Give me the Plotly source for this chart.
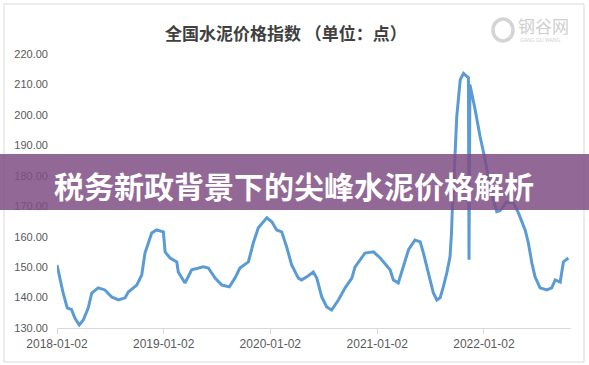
import plotly.graph_objects as go

# ---- data ----
dates = [
    "2018-01-02", "2018-01-23", "2018-02-06", "2018-02-21", "2018-03-04", "2018-03-19",
    "2018-04-02", "2018-04-19", "2018-05-01", "2018-05-23", "2018-06-15", "2018-07-08",
    "2018-07-31", "2018-08-23", "2018-09-03", "2018-10-02", "2018-10-19", "2018-10-30",
    "2018-11-11", "2018-11-22", "2018-12-09", "2019-01-01", "2019-01-07", "2019-01-24",
    "2019-02-16", "2019-02-21", "2019-03-16", "2019-04-08", "2019-05-18", "2019-06-04",
    "2019-06-27", "2019-07-20", "2019-08-15", "2019-09-03", "2019-09-20", "2019-10-19",
    "2019-11-05", "2019-11-22", "2019-12-21", "2020-01-07", "2020-01-24", "2020-02-10",
    "2020-02-27", "2020-03-15", "2020-04-07", "2020-04-18", "2020-05-06", "2020-05-28",
    "2020-06-09", "2020-06-26", "2020-07-13", "2020-07-30", "2020-08-22", "2020-09-14",
    "2020-10-07", "2020-10-18", "2020-11-21", "2020-12-20", "2021-01-12", "2021-02-04",
    "2021-02-15", "2021-02-26", "2021-03-15", "2021-04-01", "2021-04-19", "2021-05-11",
    "2021-05-29", "2021-06-09", "2021-06-26", "2021-07-13", "2021-07-25", "2021-08-05",
    "2021-08-16", "2021-08-28", "2021-09-08", "2021-09-13", "2021-09-17", "2021-09-21",
    "2021-10-01", "2021-10-13", "2021-10-24", "2021-11-10", "2021-11-12", "2021-11-15",
    "2021-12-03", "2021-12-20", "2022-01-06", "2022-01-23", "2022-02-15", "2022-02-26",
    "2022-03-21", "2022-04-13", "2022-04-30", "2022-05-23", "2022-06-03", "2022-06-15",
    "2022-06-26", "2022-07-13", "2022-08-05", "2022-08-22", "2022-09-03", "2022-09-20",
    "2022-10-01", "2022-10-18",
]
values = [
    150.7, 141.5, 136.6, 136.0, 133.3, 131.0,
    132.6, 136.6, 141.5, 143.2, 142.5, 140.2,
    139.2, 139.9, 141.8, 144.1, 147.4, 154.6,
    158.0, 161.2, 162.2, 161.6, 155.0, 153.0,
    151.7, 148.4, 144.8, 149.1, 150.1, 149.7,
    146.4, 144.1, 143.5, 146.4, 149.7, 151.7,
    158.0, 162.9, 166.2, 164.9, 162.2, 161.6,
    156.6, 150.7, 146.4, 145.8, 146.8, 148.4,
    146.4, 140.2, 136.9, 135.9, 139.2, 143.2,
    146.4, 150.1, 154.6, 155.0, 153.0, 150.1,
    149.1, 145.8, 144.8, 150.1, 155.7, 158.9,
    158.3, 154.6, 148.1, 141.5, 139.2, 139.9,
    143.5, 148.1, 153.4, 161.2, 172.0, 178.0,
    199.4, 211.6, 213.6, 212.2, 152.4, 210.0,
    201.7, 192.8, 185.3, 176.0, 168.2, 168.5,
    171.4, 171.1, 167.8, 162.2, 158.0, 151.4,
    146.8, 143.2, 142.5, 143.2, 145.8, 145.1,
    151.7, 153.0,
]
x_tick_vals = ["2018-01-02", "2019-01-02", "2020-01-02", "2021-01-02", "2022-01-02"]
x_tick_text = ["2018-01-02", "2019-01-02", "2020-01-02", "2021-01-02", "2022-01-02"]
y_ticks = [130, 140, 150, 160, 170, 180, 190, 200, 210, 220]

title_text = "全国水泥价格指数 （单位：点）"
banner_text = "税务新政背景下的尖峰水泥价格解析"

# ---- layout geometry (pixels) ----
W, H = 589, 365
L, R, T, B = 57, 571, 54, 328


def px(xp):
    return (xp - L) / (R - L)


def py(yp):
    return (B - yp) / (B - T)


fig = go.Figure()
fig.add_trace(go.Scatter(
    x=dates, y=values, mode="lines",
    line=dict(color="#5B9BD5", width=3),
    hoverinfo="skip", showlegend=False,
))

fig.update_layout(
    width=W, height=H,
    margin=dict(l=L, r=W - R, t=T, b=H - B, pad=0),
    paper_bgcolor="white", plot_bgcolor="white",
    font=dict(family="Liberation Sans, Arial, sans-serif", color="#595959"),
    xaxis=dict(
        type="date", range=["2018-01-02", "2022-10-27"],
        tickvals=x_tick_vals, ticktext=x_tick_text,
        showgrid=False, zeroline=False,
        showline=True, linecolor="#d9d9d9", linewidth=1,
        ticks="outside", ticklen=5, tickcolor="#d9d9d9",
        tickfont=dict(size=12, color="#595959"),
    ),
    yaxis=dict(
        range=[130, 220], tickvals=y_ticks, tickformat=".2f",
        showgrid=False, zeroline=False, showline=False,
        ticks="", ticklabelstandoff=8,
        tickfont=dict(size=11, color="#595959"),
    ),
    shapes=[
        # chart frame
        dict(type="rect", xref="paper", yref="paper",
             x0=px(4), x1=px(584), y0=py(362), y1=py(4),
             line=dict(color="#d9d9d9", width=1), layer="below"),
        # watermark circle
        dict(type="circle", xref="paper", yref="paper",
             x0=px(493), x1=px(513), y0=py(41), y1=py(19),
             line=dict(color="#d4d4d4", width=3.5), layer="above"),
        # banner
        dict(type="rect", xref="paper", yref="paper",
             x0=px(0), x1=px(W), y0=py(210), y1=py(154),
             fillcolor="rgba(127,77,132,0.85)", line=dict(width=0), layer="above"),
    ],
    annotations=[
        dict(text="<b>" + title_text + "</b>", xref="paper", yref="paper",
             x=px(286), y=py(33), xanchor="center", yanchor="middle",
             showarrow=False,
             font=dict(family="Noto Sans CJK SC", size=17, color="#404040")),
        dict(text="钢谷网", xref="paper", yref="paper",
             x=px(516), y=py(26), xanchor="left", yanchor="middle",
             showarrow=False,
             font=dict(family="Noto Sans CJK SC", size=17, color="#cfcfcf")),
        dict(text="GANG GU WANG", xref="paper", yref="paper",
             x=px(518), y=py(40), xanchor="left", yanchor="middle",
             showarrow=False,
             font=dict(family="Liberation Sans", size=5, color="#cfcfcf")),
        dict(text="<b>" + banner_text + "</b>", xref="paper", yref="paper",
             x=px(294), y=py(185), xanchor="center", yanchor="middle",
             showarrow=False,
             font=dict(family="Noto Sans CJK SC", size=30, color="white")),
    ],
)

fig.write_html("out.html")
